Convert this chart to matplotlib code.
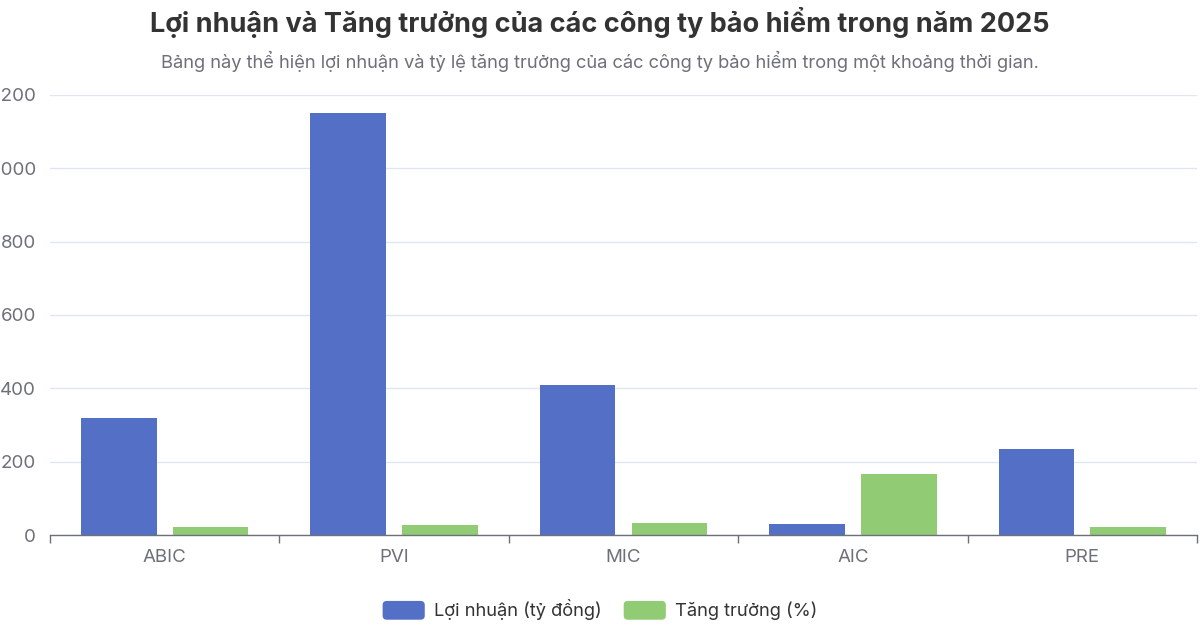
import numpy as np
import matplotlib
matplotlib.use("Agg")
import matplotlib.pyplot as plt
from matplotlib.patches import FancyBboxPatch, Patch
from matplotlib.legend_handler import HandlerPatch

plt.rcParams['font.family'] = ['Inter', 'Noto Sans', 'DejaVu Sans']

# data
companies = ['ABIC', 'PVI', 'MIC', 'AIC', 'PRE']
profit = [318, 1150, 409, 30, 235]        # Lợi nhuận (tỷ đồng)
growth = [23, 27, 32, 166, 22]            # Tăng trưởng (%)
yticks = [0, 200, 400, 600, 800, 1000, 1200]

BLUE = '#5470c6'
GREEN = '#91cc75'
AXIS = '#6e7079'
GRID = '#e0e6f1'


class RoundedHandler(HandlerPatch):
    def create_artists(self, legend, orig_handle, xdescent, ydescent,
                       width, height, fontsize, trans):
        p = FancyBboxPatch((-xdescent, -ydescent), width, height,
                           boxstyle="round,pad=0,rounding_size=3",
                           facecolor=orig_handle.get_facecolor(),
                           edgecolor='none', transform=trans)
        return [p]


fig = plt.figure(figsize=(12, 6.3), dpi=100)
ax = fig.add_axes([50 / 1200, 1 - 535 / 630, 1147 / 1200, 440 / 630])

x = np.arange(len(companies))
w = 0.33
ax.bar(x - 0.2, profit, w, color=BLUE, label='Lợi nhuận (tỷ đồng)', zorder=3)
ax.bar(x + 0.2, growth, w, color=GREEN, label='Tăng trưởng (%)', zorder=3)

ax.set_xlim(-0.5, len(companies) - 0.5)
ax.set_ylim(0, 1200)
ax.set_yticks(yticks)
ax.set_yticklabels([str(v) for v in yticks])
ax.grid(axis='y', color=GRID, linewidth=1, zorder=0)
ax.set_axisbelow(True)

ax.set_xticks(x)
ax.set_xticklabels(companies)
ax.set_xticks(np.arange(-0.5, len(companies)), minor=True)
ax.tick_params(axis='x', which='major', length=0, pad=10, labelsize=13.5, labelcolor=AXIS)
ax.tick_params(axis='x', which='minor', length=6, width=1, color=AXIS)
ax.tick_params(axis='y', length=0, pad=10, labelsize=13.5, labelcolor=AXIS)

for s in ['top', 'right', 'left']:
    ax.spines[s].set_visible(False)
ax.spines['bottom'].set_color(AXIS)
ax.spines['bottom'].set_linewidth(1)
ax.spines['bottom'].set_zorder(4)

fig.text(0.5, 1 - 22 / 630, 'Lợi nhuận và Tăng trưởng của các công ty bảo hiểm trong năm 2025',
         ha='center', va='center', fontsize=19.5, fontweight='bold', color='#333333')
fig.text(0.5, 1 - 61 / 630,
         'Bảng này thể hiện lợi nhuận và tỷ lệ tăng trưởng của các công ty bảo hiểm trong một khoảng thời gian.',
         ha='center', va='center', fontsize=13.2, color=AXIS)

handles = [Patch(facecolor=BLUE), Patch(facecolor=GREEN)]
fig.legend(handles, ['Lợi nhuận (tỷ đồng)', 'Tăng trưởng (%)'],
           loc='center', bbox_to_anchor=(0.5, 1 - 610 / 630), ncol=2, frameon=False,
           fontsize=13.2, handlelength=2.3, handleheight=1.2, handletextpad=0.5,
           columnspacing=1.2, labelcolor='#333333',
           handler_map={Patch: RoundedHandler()})

fig.savefig('out.png', dpi=100)
